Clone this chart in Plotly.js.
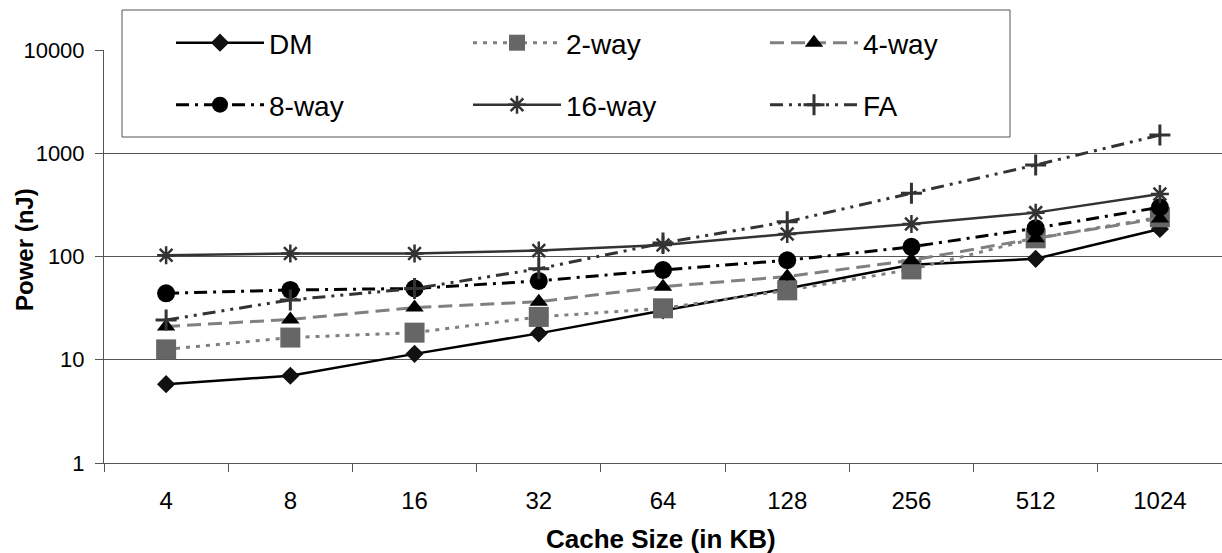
<!DOCTYPE html>
<html>
<head>
<meta charset="utf-8">
<script src="https://cdn.plot.ly/plotly-3.0.1.min.js"></script>
<style>
html,body{margin:0;padding:0;background:#fff;}
#chart{width:1222px;height:553px;}
</style>
</head>
<body>
<div id="chart"></div>
<script>
const categories = ["4", "8", "16", "32", "64", "128", "256", "512", "1024"];
const dm      = [5.8, 7.0, 11.4, 18.0, 30, 49, 83, 95, 185];
const way2    = [12.6, 16.4, 18.3, 26, 31.5, 47, 75, 150, 240];
const way4    = [21, 24.6, 32, 36.5, 51, 64, 92, 150, 234];
const way8    = [44, 47.4, 49, 58, 74, 92, 124, 188, 300];
const way16   = [103, 107, 107, 114, 129, 165, 206, 266, 403];
const fa      = [24.3, 38, 49, 76, 135, 217, 410, 769, 1500];
const seriesNames = ["DM", "2-way", "4-way", "8-way", "16-way", "FA"];
const yTicks = [1, 10, 100, 1000, 10000];

const F = "Liberation Sans, Arial, sans-serif";

const traces = [
  {y: dm, name: seriesNames[0], legend: "legend",
   line: {color: "#000", width: 2.5},
   marker: {symbol: "diamond", size: 14, color: "#111"}},
  {y: way2, name: seriesNames[1], legend: "legend",
   line: {color: "#808080", width: 3, dash: "4px,6px"},
   marker: {symbol: "square", size: 20, color: "#666"}},
  {y: way4, name: seriesNames[2], legend: "legend",
   line: {color: "#808080", width: 3, dash: "14px,7px"},
   marker: {symbol: "triangle-up", size: 16, color: "#000"}},
  {y: way8, name: seriesNames[3], legend: "legend2",
   line: {color: "#000", width: 3, dash: "13px,6px,3px,6px"},
   marker: {symbol: "circle", size: 18, color: "#000"}},
  {y: way16, name: seriesNames[4], legend: "legend2",
   line: {color: "#333", width: 2.5},
   marker: {symbol: "asterisk-open", size: 15, color: "#333", line: {color: "#333", width: 2.5}}},
  {y: fa, name: seriesNames[5], legend: "legend2",
   line: {color: "#333", width: 3, dash: "13px,6px,3px,6px,3px,6px"},
   marker: {symbol: "cross-thin-open", size: 15, color: "#333", line: {color: "#333", width: 3}}}
].map(t => Object.assign({type: "scatter", mode: "lines+markers", x: categories, cliponaxis: false}, t));

const W = 1222, H = 553, L = 104, R = 0, T = 50, B = 90;
const pw = W - L - R, ph = H - T - B;
const px = v => (v - L) / pw;
const py = v => 1 - (v - T) / ph;

const legendCommon = {
  orientation: "h", xanchor: "left", yanchor: "middle",
  bgcolor: "rgba(0,0,0,0)", borderwidth: 0,
  font: {family: F, size: 28, color: "#000"},
  itemwidth: 88, entrywidth: 194, entrywidthmode: "pixels",
  itemclick: false, itemdoubleclick: false
};

const layout = {
  width: W, height: H,
  margin: {l: L, r: R, t: T, b: B},
  paper_bgcolor: "#fff", plot_bgcolor: "#fff",
  font: {family: F, size: 22, color: "#000"},
  showlegend: true,
  legend: Object.assign({x: px(171), y: py(43)}, legendCommon),
  legend2: Object.assign({x: px(171), y: py(105)}, legendCommon),
  xaxis: {
    type: "category", range: [-0.5, 8.5],
    showgrid: false, zeroline: false,
    showline: true, linecolor: "#555", linewidth: 1,
    ticks: "outside", tickson: "boundaries", ticklen: 8, tickcolor: "#555", tickwidth: 1,
    ticklabelstandoff: 16,
    tickfont: {family: F, size: 24, color: "#000"}
  },
  yaxis: {
    type: "log", range: [0, 4],
    tickvals: yTicks, ticktext: yTicks.map(String),
    showgrid: true, gridcolor: "#555", gridwidth: 1,
    zeroline: false,
    showline: true, linecolor: "#555", linewidth: 1,
    ticks: "outside", ticklen: 8, tickcolor: "#555", tickwidth: 1,
    ticklabelstandoff: 6,
    tickfont: {family: F, size: 22, color: "#000"}
  },
  shapes: [
    {type: "rect", xref: "paper", yref: "paper", layer: "above",
     x0: px(122), x1: px(1010), y0: py(137), y1: py(10),
     fillcolor: "#fff", line: {color: "#555", width: 1}}
  ],
  annotations: [
    {text: "<b>Power (nJ)</b>", xref: "paper", yref: "paper",
     x: px(25), y: py(250), xanchor: "center", yanchor: "middle",
     textangle: -90, showarrow: false, font: {family: F, size: 24, color: "#000"}},
    {text: "<b>Cache Size (in KB)</b>", xref: "paper", yref: "paper",
     x: px(661), y: py(539), xanchor: "center", yanchor: "middle",
     showarrow: false, font: {family: F, size: 26, color: "#000"}}
  ]
};

Plotly.newPlot("chart", traces, layout, {displayModeBar: false, staticPlot: true});
</script>
</body>
</html>
